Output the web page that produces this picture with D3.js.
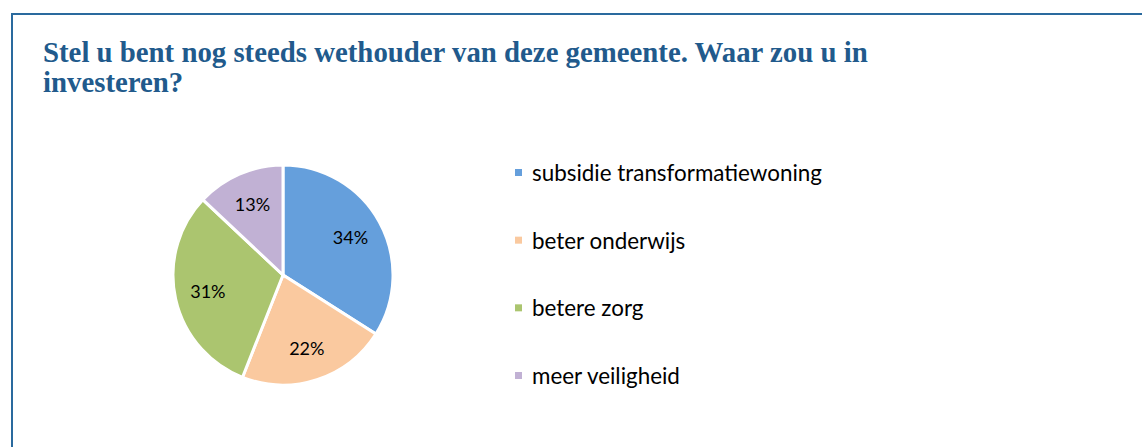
<!DOCTYPE html>
<html>
<head>
<meta charset="utf-8">
<script src="https://cdn.jsdelivr.net/npm/d3@7"></script>
<style>
  body { margin: 0; background: #fff; }
  svg { display: block; }
</style>
</head>
<body>
<div id="chart"></div>
<script>
// data
var categories = ["subsidie transformatiewoning", "beter onderwijs", "betere zorg", "meer veiligheid"];
var values = [34, 22, 31, 13];
var colors = ["#659fdc", "#fac99f", "#abc56f", "#c1b1d4"];
var titleLines = ["Stel u bent nog steeds wethouder van deze gemeente. Waar zou u in", "investeren?"];

var w = 1142, h = 447;
var svg = d3.select("#chart").append("svg")
    .attr("width", w)
    .attr("height", h);

// frame
svg.append("rect")
    .attr("x", 12)
    .attr("y", 14)
    .attr("width", w + 20)
    .attr("height", h + 20)
    .attr("fill", "none")
    .attr("stroke", "#2a6a9e")
    .attr("stroke-width", 2);

// title
var title = svg.append("text")
    .attr("x", 43)
    .attr("y", 62)
    .style("font-family", "'Liberation Serif', serif")
    .style("font-weight", "bold")
    .style("font-size", "24px")
    .style("fill", "#215a8c");
title.selectAll("tspan")
    .data(titleLines)
    .enter().append("tspan")
    .attr("x", 43)
    .attr("dy", function (d, i) { return i == 0 ? 0 : 30; })
    .text(function (d) { return d; });

// stretch title font so first line ends where it does in the original
var firstLine = title.select("tspan").node();
var tl = firstLine.getComputedTextLength();
title.style("font-size", (24 * 825 / tl).toFixed(2) + "px");

// pie
var cx = 283, cy = 275, r = 110;
var pie = d3.pie().sort(null).value(function (d) { return d; });
var arc = d3.arc().innerRadius(0).outerRadius(r);
var labelArc = d3.arc().innerRadius(r * 0.7).outerRadius(r * 0.7);

var g = svg.append("g").attr("transform", "translate(" + cx + "," + cy + ")");
var arcs = pie(values);

g.selectAll("path")
    .data(arcs)
    .enter().append("path")
    .attr("d", arc)
    .attr("fill", function (d, i) { return colors[i]; })
    .attr("stroke", "#fff")
    .attr("stroke-width", 3);

g.selectAll(".lbl")
    .data(arcs)
    .enter().append("text")
    .attr("class", "lbl")
    .attr("transform", function (d) { return "translate(" + labelArc.centroid(d) + ")"; })
    .attr("text-anchor", "middle")
    .attr("dy", "0.35em")
    .style("font-family", "Lato, sans-serif")
    .style("font-size", "18px")
    .style("fill", "#000")
    .text(function (d) { return d.data + "%"; });

// legend
var legend = svg.append("g").attr("transform", "translate(515,0)");
var ly = d3.scalePoint().domain(categories).range([173, 376]);
var item = legend.selectAll(".item")
    .data(categories)
    .enter().append("g")
    .attr("class", "item")
    .attr("transform", function (d) { return "translate(0," + ly(d) + ")"; });
item.append("rect")
    .attr("x", 0)
    .attr("y", -4)
    .attr("width", 7)
    .attr("height", 7)
    .attr("fill", function (d, i) { return colors[i]; });
item.append("text")
    .attr("x", 17)
    .attr("dy", "0.35em")
    .style("font-family", "Lato, sans-serif")
    .style("font-size", "22.4px")
    .style("fill", "#000")
    .text(function (d) { return d; });
</script>
</body>
</html>
